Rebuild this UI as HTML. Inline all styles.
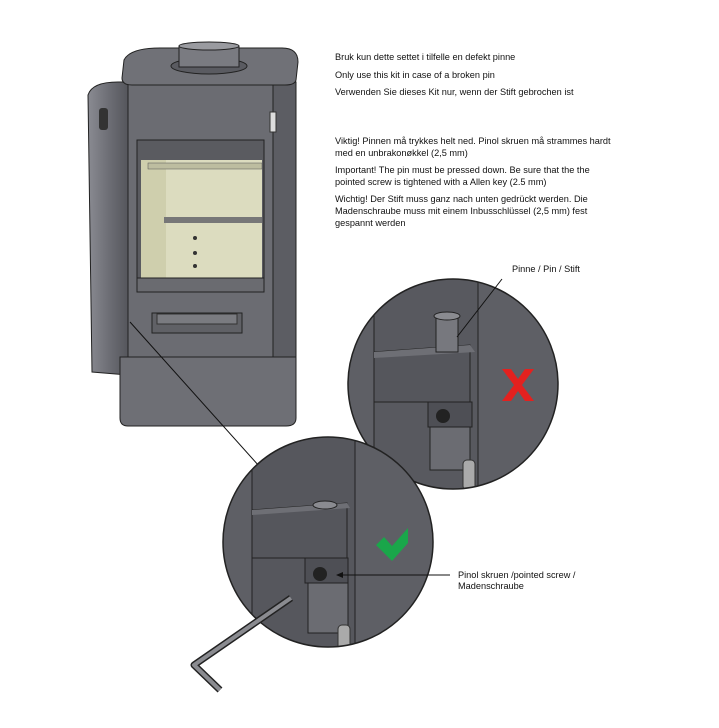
<!DOCTYPE html>
<html><head><meta charset="utf-8"><style>
body{margin:0;background:#fff;}
svg{display:block;font-family:"Liberation Sans",sans-serif;}
</style></head><body>
<svg width="719" height="728" viewBox="0 0 719 728" xmlns="http://www.w3.org/2000/svg">
<defs>
<clipPath id="c1"><circle cx="453" cy="384" r="105"/></clipPath>
<clipPath id="c2"><circle cx="328" cy="542" r="105"/></clipPath>
<linearGradient id="door" x1="0" x2="1"><stop offset="0" stop-color="#8a8b92"/><stop offset="0.5" stop-color="#6e6f76"/><stop offset="1" stop-color="#55565c"/></linearGradient>
</defs>
<!-- stove -->
<path d="M88 95 Q92 82 118 82 L128 82 L128 375 L92 372 Z" fill="url(#door)" stroke="#222" stroke-width="1"/>
<rect x="99" y="108" width="9" height="22" rx="3" fill="#333"/>
<rect x="128" y="82" width="145" height="275" fill="#6b6c72" stroke="#222"/>
<path d="M273 82 L296 82 L296 357 L273 357 Z" fill="#5c5d63" stroke="#222"/>
<rect x="270" y="112" width="6" height="20" fill="#ddd" stroke="#333"/>
<path d="M124 60 Q130 48 160 48 L282 48 Q298 48 298 62 L296 80 Q295 85 285 85 L132 85 Q122 85 122 78 Z" fill="#707177" stroke="#222"/>
<ellipse cx="209" cy="66" rx="38" ry="8" fill="#5a5b61" stroke="#222"/>
<rect x="179" y="46" width="60" height="21" fill="#7a7b81" stroke="#222"/>
<ellipse cx="209" cy="46" rx="30" ry="4" fill="#9a9ba0" stroke="#222"/>
<rect x="137" y="140" width="127" height="152" fill="#5a5b60" stroke="#222"/>
<rect x="141" y="160" width="121" height="118" fill="#dcdcbf"/>
<rect x="141" y="160" width="25" height="118" fill="#cfcfad"/>
<rect x="148" y="163" width="114" height="6" fill="#bdbda0" stroke="#555" stroke-width="0.5"/>
<rect x="164" y="217" width="98" height="6" fill="#777"/>
<circle cx="195" cy="238" r="2" fill="#333"/><circle cx="195" cy="253" r="2" fill="#333"/><circle cx="195" cy="266" r="2" fill="#333"/>
<rect x="137" y="278" width="127" height="14" fill="#6a6b70" stroke="#222"/>
<rect x="152" y="313" width="90" height="20" fill="#606166" stroke="#222"/>
<rect x="157" y="314" width="80" height="10" fill="#7a7b80" stroke="#333"/>
<path d="M120 357 L296 357 L296 418 Q296 426 286 426 L128 426 Q120 426 120 418 Z" fill="#6e6f75" stroke="#222"/>
<!-- leader to lower circle -->
<line x1="130" y1="322" x2="259" y2="466" stroke="#111" stroke-width="1"/>
<!-- circle 1 -->
<g clip-path="url(#c1)">
<rect x="340" y="270" width="230" height="230" fill="#5e5f65"/>
<rect x="374" y="270" width="104" height="230" fill="#58595f"/>
<line x1="374" y1="270" x2="374" y2="500" stroke="#222"/>
<line x1="478" y1="270" x2="478" y2="500" stroke="#222"/>
<rect x="430" y="420" width="40" height="50" fill="#6b6c72" stroke="#222"/>
<path d="M374 352 L470 345 L470 402 L374 402 Z" fill="#55565c" stroke="#222"/>
<path d="M374 352 L470 345 L475 352 L374 358 Z" fill="#6e6f75"/>
<rect x="436" y="316" width="22" height="36" fill="#77787e" stroke="#222"/>
<ellipse cx="447" cy="316" rx="13" ry="4" fill="#8a8b90" stroke="#222"/>
<rect x="428" y="402" width="44" height="25" fill="#4e4f55" stroke="#222"/>
<circle cx="443" cy="416" r="7" fill="#222"/>
<rect x="463" y="460" width="12" height="30" rx="4" fill="#aaa" stroke="#333"/>
</g>
<circle cx="453" cy="384" r="105" fill="none" stroke="#222" stroke-width="1.5"/>
<path d="M502 369 L511 369 L518 379 L525 369 L534 369 L522 385 L534 401 L525 401 L518 391 L511 401 L502 401 L514 385 Z" fill="#e3211f"/>
<!-- circle 2 -->
<g clip-path="url(#c2)">
<rect x="215" y="430" width="230" height="230" fill="#5e5f65"/>
<rect x="252" y="430" width="103" height="230" fill="#56575d"/>
<line x1="252" y1="430" x2="252" y2="660" stroke="#222"/>
<line x1="355" y1="430" x2="355" y2="660" stroke="#222"/>
<rect x="308" y="583" width="40" height="50" fill="#6b6c72" stroke="#222"/>
<path d="M252 510 L347 503 L347 558 L252 558 Z" fill="#55565c" stroke="#222"/>
<path d="M252 510 L347 503 L350 508 L252 515 Z" fill="#6e6f75"/>
<ellipse cx="325" cy="505" rx="12" ry="4" fill="#8a8b90" stroke="#222"/>
<rect x="305" y="558" width="43" height="25" fill="#4e4f55" stroke="#222"/>
<circle cx="320" cy="574" r="7" fill="#222"/>
<rect x="338" y="625" width="12" height="30" rx="4" fill="#aaa" stroke="#333"/>
</g>
<circle cx="328" cy="542" r="105" fill="none" stroke="#222" stroke-width="1.5"/>
<path d="M376 545 L384 537 L392 546 L408 528 L408 543 L392 561 Z" fill="#1aa64a"/>
<!-- allen key -->
<path d="M291 598 L194 665 L220 690" fill="none" stroke="#222" stroke-width="7" stroke-linejoin="round"/>
<path d="M291 598 L194 665 L220 690" fill="none" stroke="#8a8b90" stroke-width="4" stroke-linejoin="round"/>
<!-- leaders -->
<line x1="502" y1="279" x2="457" y2="337" stroke="#111"/>
<line x1="340" y1="575" x2="450" y2="575" stroke="#111"/>
<path d="M336 575 L343 572 L343 578 Z" fill="#111"/>
<!-- text -->
<g font-size="9.2" fill="#111">
<text x="335" y="60">Bruk kun dette settet i tilfelle en defekt pinne</text>
<text x="335" y="78">Only use this kit in case of a broken pin</text>
<text x="335" y="95">Verwenden Sie dieses Kit nur, wenn der Stift gebrochen ist</text>
<text x="335" y="144">Viktig! Pinnen må trykkes helt ned. Pinol skruen må strammes hardt</text>
<text x="335" y="156">med en unbrakonøkkel (2,5 mm)</text>
<text x="335" y="173">Important! The pin must be pressed down. Be sure that the the</text>
<text x="335" y="185">pointed screw is tightened with a Allen key (2.5 mm)</text>
<text x="335" y="202">Wichtig! Der Stift muss ganz nach unten gedrückt werden. Die</text>
<text x="335" y="214">Madenschraube muss mit einem Inbusschlüssel (2,5 mm) fest</text>
<text x="335" y="226">gespannt werden</text>
<text x="512" y="272">Pinne / Pin / Stift</text>
<text x="458" y="578">Pinol skruen /pointed screw /</text>
<text x="458" y="589">Madenschraube</text>
</g>
</svg>
</body></html>
